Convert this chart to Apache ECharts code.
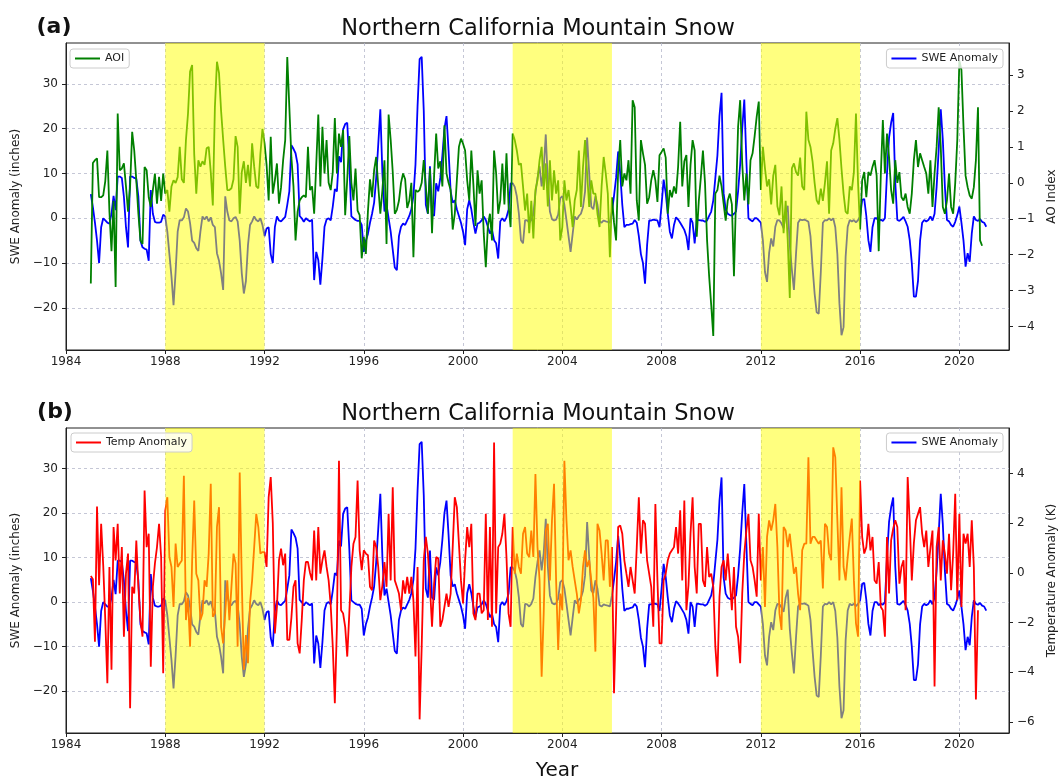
<!DOCTYPE html>
<html>
<head>
<meta charset="utf-8">
<title>Northern California Mountain Snow</title>
<script src="https://cdn.jsdelivr.net/npm/echarts@6.0.0/dist/echarts.min.js"></script>
<style>
  html, body { margin: 0; padding: 0; background: #fff; }
  #chart { width: 1061px; height: 780px; }
</style>
</head>
<body>
<div id="chart"></div>
<script>
// monthly series, first value = January 1985
const startYear = 1985;

// SWE anomaly (inches)
const sweAnomaly = [
  5.4, 2.5, -1, -5, -10, -2, 0, -0.5, -1, -1.2, 1, 5,
  1.8, 9.3, 9.3, 9, 4.8, -2, -6.5, 9.3, 9.3, 9, 8.8, 4.8,
  -5, -6.5, -6.8, -7, -9.5, 6.3, 1, -0.8, -1, -1, -0.8, 0.8,
  0.4, -3, -8, -13, -19.4, -12, -3, -0.4, -0.5, 0.2, 2.2, 1.5,
  -1.1, -5, -5.5, -6.7, -7.3, -3, 0.4, -0.3, 0.4, -0.7, 0.2, -1.5,
  -2, -7.8, -9.5, -12.3, -16, 4.9, 1.5, -0.5, -0.7, 0, 0.3, -0.7,
  -5, -12.3, -16.8, -14, -6, -1.5, -0.7, 0.4, -0.4, -0.7, 0, -1.5,
  -4, -2.3, -2, -8, -10, -2, 0.4, -0.5, -0.7, -0.2, 0.3, 3,
  6, 16.3, 15.5, 14.5, 12, 0.5, 0, -0.8, 0, -0.4, -0.7, -0.3,
  -13.8, -7.5, -9.3, -14.8, -9, -1.9, -0.3, 0, -0.5, 2.6, 6.5, 6,
  13.8, 12.5, 19.8, 21, 21.3, 12, 0.4, 0, -0.4, -0.6, -0.6, -1.5,
  -7.5, -5, -3.5, -1, 1, 3.5, 9, 16.5, 24.3, 10, 1.5, 3,
  0, -3, -7, -11, -11.6, -4, -1.9, -1.2, -1.5, -0.5, 0.5, 2,
  5, 12, 25, 35.5, 36, 24, 3, 1, 11.6, 1, 0.5, 7.8,
  6, 9, 14, 20, 22.8, 15, 6, 3.5, 4, 2, 0.5, -1,
  -3, -6, 2, 4, 2, -1, -3.4, -1.2, -1, -0.5, 0.4, -0.4,
  -1.9, -3.4, -2.6, -4.9, -5.6, -9, -0.7, 0, -0.7, 0.2, 1.9, 7.8,
  7.8, 7, 4.9, 1, -4.9, -5.6, -0.4, -0.5, -1, -0.4, 0.8, 5.6,
  9, 11.6, 7.1, 11, 18.7, 8, 1.5, -0.2, -0.5, -0.3, 0.8, 4.5,
  4.9, 3, -0.4, -4, -7.5, -3.5, 0.4, -0.3, 0.5, 1, 2.5, 6,
  18, 10, 2.6, 2, 4.9, 3, -0.7, -1, -0.5, -0.7, -0.8, -1,
  1.5, 5, 9, 14.9, 10, 3, -2, -1.5, -1.5, -1.3, -1.2, -0.4,
  -1, -4, -8, -10, -14.6, -6, -0.5, -0.5, -0.3, -0.4, -0.5, -2,
  3, 8.6, 5.6, 1, -3, -4.5, -1.5, 0.2, -0.3, -1, -1.8, -2.6,
  -4, -7.1, 0, -1, -5.6, -0.4, -0.4, -0.5, -0.5, -0.8, -0.5, 0.5,
  1.5, 4, 9, 14, 22.8, 28, 5.6, 1.9, 1, 0.7, 0.6, 1,
  1.5, 6, 12, 20, 26.5, 13, 0, -0.4, -0.7, 0, 0, -0.5,
  -1, -5, -12, -14.2, -7.8, -4.5, -6.3, -1.9, -0.4, -0.5, -1.2, -2.2,
  1, 2.8, -6, -11.5, -16, -8, -1, -0.3, -0.4, -0.3, -0.5, -0.8,
  -4, -10.8, -16.8, -21, -21.3, -12, -1, -0.4, -0.5, 0, -0.5, 0,
  -2, -8, -19, -26.1, -24.3, -8.6, -1.9, -0.4, -0.7, -0.4, -0.9, -0.4,
  0.4, 4.1, 4.3, 0.5, -4.9, -7.5, -2, 0, 0, -0.7, -0.3, -0.6,
  0, 10, 18, 21.3, 23.5, 8, -0.4, -0.6, -0.2, 0.3, -0.7, -1.9,
  -4.9, -10, -17.5, -17.5, -14, -5, -1, -0.4, -0.7, -0.4, 0.4, -0.5,
  1, 7, 15.3, 24.3, 17.5, 7, -0.4, -0.7, -1.5, -1.9, -0.8, 0.7,
  2.6, -1, -5, -10.8, -7.8, -9.7, -3.4, 0.4, -0.4, -0.6, -0.2, -0.8,
  -1, -1.9
];

// Arctic Oscillation index
const aoIndex = [
  -2.8, 0.55, 0.63, 0.68, -0.4, -0.4, -0.35, 0.05, 0.9, -0.8, -1.9, -0.5,
  -2.9, 1.93, 0.35, 0.4, 0.54, -0.1, -0.8, -0.1, 1.42, 0.9, 0.07, -0.86,
  -1.6, -1.7, 0.44, 0.35, -0.4, -0.67, -0.2, 0.26, -0.58, 0.17, -0.5, 0.26,
  -0.3, -0.2, -0.8, -0.1, 0.07, 0, 0.16, 1, 0.1, 0, 1.19, 1.93,
  3.1, 3.28, 0.8, -0.3, 0.63, 0.45, 0.6, 0.5, 0.96, 1, 0.3, -0.63,
  2.1, 3.37, 3.05, 2, 1.2, 0.45, -0.2, -0.2, -0.15, 0.1, 1.3, 1,
  -0.86, 0.3, 0.6, 0, 0.5, -0.1, 1.1, 0.45, -0.1, -0.15, 0.8, 1.5,
  1.1, 0.5, -0.49, 1.28, -0.3, 0.07, 0.54, -0.58, -0.12, 0.63, 1.19, 3.5,
  2.1, 0.7, -0.1, -1.6, -0.8, -0.49, -0.4, -0.35, -0.4, 1, -0.2, -0.1,
  -0.86, 0.5, 1.9, -0.1, 1.56, 0.26, 1.19, 0, -0.2, 0.3, 1.8, 0.26,
  1.37, 1, 1.47, -0.9, 0.1, 1.3, 0, -0.49, 0.4, -0.77, -0.9, -2.1,
  -1.5, -1.98, -0.8, 0.1, -0.4, 0.35, 0.72, -0.1, -0.86, -0.2, 0.63, -1.7,
  1.9, 1.2, 0.3, -0.86, -0.75, -0.5, 0, 0.26, 0.1, -0.7, -0.5, 0,
  -2.07, -0.2, -0.25, -0.2, 0, 0.63, -0.1, -0.86, 0.4, -1.4, 0.2, 1.37,
  0.4, 0.6, -0.1, 1.6, 0.26, 0, -0.2, -1.3, -0.86, 0.07, 1, 1.23,
  1.09, 0.9, 0.07, -0.49, 0.9, -0.05, -1.2, 0.35, -0.3, 0.07, -1.4, -2.35,
  -1.2, -0.86, -1.6, 0.9, 0.26, -0.86, -0.49, 0.54, -0.6, 0.82, -0.63, -1.23,
  1.37, 1.19, 0.9, 0.5, 0.54, -0.1, -0.77, -0.3, -1.4, -0.5, -1.55, -0.2,
  0.07, 0.63, 1, -0.2, 0.54, -0.66, 0.63, -0.49, 0.35, -0.3, 0.07, -1.6,
  -1.23, 0.07, -0.49, -0.2, -0.67, -1.23, -0.49, -0.2, 0.9, -0.67, 0.44, 1.19,
  0.26, -0.67, 0.07, -0.3, -0.3, -0.86, -1.23, -0.1, 0.72, 0.26, -0.3, -2.07,
  -0.4, -1.1, -1.6, 0.35, 1.19, -0.1, 0.26, 0.07, 0.63, -0.3, 2.3, 2.1,
  -0.49, -1.05, 1.19, 0.82, 0.5, -0.58, -0.4, 0.07, 0.35, 0.07, -0.53, 0.77,
  0.86, 0.96, 0.7, -0.86, -0.2, -0.4, -0.1, -0.3, 0.45, 1.7, -0.1, 0.6,
  0.77, -0.67, 0.5, 1.19, 0.9, -1.5, -0.5, 0.16, 0.9, 0, -1.6, -2.6,
  -3.4, -4.26, -0.3, -0.2, 0.2, -0.1, -0.58, -1.05, -0.49, -0.3, -0.6, -2.6,
  -0.4, 1.56, 2.3, 0.54, -0.49, 0.26, -0.6, 0.63, 0.82, 1.3, 1.84, 2.26,
  -0.2, 1, 0.4, -0.1, 0.1, -0.6, 0.2, 0.5, -0.65, -0.9, -0.1, -1.4,
  -0.5, -1.6, -3.2, 0.4, 0.54, 0.3, 0.2, 0.7, -0.1, -0.2, 1.98, 1.2,
  1, 0.6, 0, -0.49, -0.6, -0.16, -0.5, 0, 0.6, -0.86, 0.9, 1.1,
  1.5, 1.8, 1.2, 0.4, -0.3, -0.8, -0.86, -0.1, -0.2, 0.3, 1.93, 0,
  -1.3, 0.07, 0.3, -0.4, 0.3, 0.2, 0.45, 0.63, 0.2, -1.9, 0.2, 1.75,
  0.26, 1.37, 0.72, -0.2, -0.58, 0.63, 0, 0.3, -0.4, -0.49, -0.3, -0.67,
  -0.86, -0.3, 0.63, 1.19, 0.44, 0.82, 0.63, 0.44, 0.26, -0.3, 0.63, -0.67,
  0.26, 1, 2.1, 1, -0.67, -0.86, -0.49, 0.26, -0.67, -0.86, 0, 1.2,
  3.4, 3.14, 1.56, 0.2, -0.12, -0.35, -0.44, -0.12, 0.63, 2.1, -1.6, -1.75
];

// temperature anomaly (K)
const tempAnomaly = [
  -0.12, -0.25, -2.77, 2.68, -0.5, 1.98, 0.3, -1.9, -4.44, 0.24, -3.9, 1.85,
  0.5, 1.98, -0.83, 1.04, -2.57, -0.03, 0.78, -5.45, -0.56, -0.83, 1.31, -0.56,
  -1.9, -2.57, 3.32, 1.04, 1.58, -3.78, -0.56, 0.38, 1.04, 1.98, 0.64, -4.04,
  2.5, 3.05, 0.64, 0.24, -1.37, 1.18, 0.24, 0.38, 0.5, 3.92, -1.9, -1,
  -2.97, 0.51, 2.92, -0.03, -0.3, -1.9, -1.63, -0.3, -0.56, 0.78, 3.59, -1.77,
  -1.63, 1.85, 2.65, -2.17, -2.84, -1.63, -0.3, -1.9, -0.56, 0.78, 0.38, -2.97,
  4.05, -0.3, -3.9, -2.5, -3.64, -1.2, -0.3, 1.04, 2.38, 1.85, 0.78, 0.84,
  0.84, 0.24, 3.05, 3.86, 2, -2.44, -1.37, 0.51, 0.98, 0.31, 0.78, -2.7,
  -2.7, -1.8, -0.56, -0.3, -2.84, -3.24, -1.9, -0.3, 0.44, 0.44, 0, -0.3,
  1.71, -0.3, 1.85, -0.03, 0.51, 0.91, 0.24, -0.3, -1.3, -2.97, -5.25, -2.17,
  4.52, -1.5, -1.63, -2.17, -3.37, -1.63, 0.24, 1.18, 1.45, 3.72, 0.91, 0.11,
  0.91, 0.78, 0.71, -0.56, -0.7, 1.31, 1.04, 0.24, -1.1, -0.5, 0.44, -0.56,
  2.38, -0.3, 3.45, -0.3, -0.56, -0.83, -1.5, -0.3, -0.83, -0.16, -0.83, -0.16,
  -1.1, -3.37, 0.24, -5.9, -2.97, 0.51, 1.45, 0.78, -0.56, -2.17, -0.43, 0.64,
  0.58, -2.17, -1.9, -1.37, -0.83, -1.37, -0.83, 1.04, 3.05, 2.65, 1.18, -0.3,
  -1.23, 0.51, 1.85, 1.04, 1.98, -1.63, -1.9, -0.83, -0.83, -1.63, -1.5, 2.38,
  -1.9, 1.85, -2.17, 5.26, -1.63, 1.04, 1.18, 1.58, 2.38, 0.64, -1.63, -2.17,
  1.85, -0.03, 0.78, 0.24, -0.03, 1.58, 1.85, 0.78, 0.64, 1.71, 0.64, 3.99,
  1.04, -0.3, -4.18, -1.63, 1.71, 1.98, -0.3, 2.12, 3.59, -0.3, -3.1, -0.83,
  -1.5, 4.52, 2.12, 0.51, 0.91, 0.24, -0.3, -0.83, -1.63, -1.1, 0.24, 0.91,
  0.24, 0.51, -0.3, -1, -3.17, 1.98, 1.71, 0.78, -0.3, 1.31, 1.31, -0.56,
  1.04, -4.85, -1.63, 1.85, 1.91, 1.58, 0.51, -0.03, -0.56, 0.24, -0.3, -0.83,
  1.04, 3.05, 0.78, 2.12, 1.98, 0.51, -0.03, -0.56, -2.17, 2.78, -0.3, -2.84,
  -2.84, -0.3, -0.03, 0.51, 0.78, 0.91, 1.04, 1.85, 0.78, 2.52, -0.3, 2.92,
  -1.5, -0.5, 1.58, 3.05, 0.24, -0.83, 1.98, 1.98, -0.3, -0.56, 1.04, -0.16,
  -0.03, -0.56, -2.97, -4.18, -0.96, 0.24, 0.51, -0.3, 0.78, -0.3, -1.5, 0.24,
  -2.17, -2.57, -3.64, -0.83, 0.78, 1.71, 2.38, 0.51, 0.24, -0.3, -0.96, 2.38,
  -0.3, 1.04, -1.37, 1.45, 2.12, 1.71, 2.12, 2.78, 1.04, -1.63, -2.3, 1.85,
  1.71, 1.04, 1.58, 0.78, -0.03, 0.24, -0.83, -1.5, 0.91, 1.18, 1.18, 4.66,
  1.18, 1.45, 1.45, 1.31, 1.18, 1.31, -0.63, 1.98, 1.85, 0.78, 0.51, 5.06,
  4.66, 2.12, -0.3, 3.45, 0.24, -0.3, 0.64, 1.45, 2.19, -0.3, -2.03, -2.57,
  3.72, 1.45, 0.78, 1.04, 1.98, 0.91, 1.45, -0.3, -0.43, 0.44, -1.37, -1.5,
  -2.57, 1.45, -0.83, 1.31, 1.78, 2.12, 1.85, -0.43, 0.24, 0.51, -1.5, 3.86,
  2, -0.3, 1.2, 2.12, 2.38, 2.65, 1.58, 1.04, 1.71, 0.24, 1, 1.71,
  -4.58, 1.04, 1.85, -0.3, 1.31, 0.78, -0.03, 1.58, -0.7, 0.78, 3.19, -1.1,
  2.38, -1.37, 1.58, 1.18, 1.58, 0.24, 2.12, 0.24, -5.1, -1.5
];

const yearTicks = [1984, 1988, 1992, 1996, 2000, 2004, 2008, 2012, 2016, 2020];
const sweTicks = [-20, -10, 0, 10, 20, 30];
const aoTicks = [-4, -3, -2, -1, 0, 1, 2, 3];
const tempTicks = [-6, -4, -2, 0, 2, 4];
const shadedPeriods = [[1988, 1992], [2002, 2006], [2012, 2016]];

const sweRange = [-29.4, 39.1];
const aoRange = [-4.65, 3.89];
const tempRange = [-6.45, 5.84];

const FONT = 'DejaVu Sans';
const INK = '#222';

function monthly(values) {
  return values.map((v, i) => [startYear + i / 12, v]);
}

function tickText(v) {
  return v < 0 ? '\u2212' + Math.abs(v) : String(v);
}

function xAxisFor(gridIndex) {
  return {
    type: 'value', gridIndex: gridIndex, min: 1984, max: 2022, interval: 4,
    axisLine: { show: true, onZero: false, lineStyle: { color: INK, width: 1 } },
    axisTick: { show: true, length: 4, customValues: yearTicks, lineStyle: { color: INK } },
    axisLabel: { customValues: yearTicks, formatter: v => String(v), fontFamily: FONT, fontSize: 12, color: INK, margin: 6 },
    splitLine: { show: true, lineStyle: { type: [3, 3], color: '#b6b9cc', width: 0.8 } }
  };
}

function yAxisFor(gridIndex, side, range, ticks, name, gap, grid) {
  return {
    type: 'value', gridIndex: gridIndex, position: side, min: range[0], max: range[1],
    name: name, nameLocation: 'middle', nameGap: gap,
    nameTextStyle: { fontFamily: FONT, fontSize: 12, color: INK },
    axisLine: { show: true, onZero: false, lineStyle: { color: INK, width: 1 } },
    axisTick: { show: true, length: 4, customValues: ticks, lineStyle: { color: INK } },
    axisLabel: { customValues: ticks, formatter: tickText, fontFamily: FONT, fontSize: 12, color: INK, margin: 8 },
    splitLine: grid
      ? { show: true, lineStyle: { type: [3, 3], color: '#b6b9cc', width: 0.8 } }
      : { show: false }
  };
}

function lineSeries(name, values, color, xi, yi, z) {
  return {
    name: name, type: 'line', xAxisIndex: xi, yAxisIndex: yi,
    data: monthly(values), color: color, showSymbol: false, symbol: 'none',
    lineStyle: { color: color, width: 1.8 }, z: z, silent: true
  };
}

function shading() {
  return {
    silent: true, z: 3,
    itemStyle: { color: 'rgba(255,255,0,0.5)' },
    label: { show: false },
    data: shadedPeriods.map(p => [{ xAxis: p[0] }, { xAxis: p[1] }])
  };
}

function legendBox(name, pos) {
  return Object.assign({
    data: [name], orient: 'horizontal', icon: 'rect', itemWidth: 25, itemHeight: 2,
    padding: [4, 5, 4, 5], backgroundColor: 'rgba(255,255,255,0.8)',
    borderColor: '#cccccc', borderWidth: 1, borderRadius: 3,
    textStyle: { fontFamily: FONT, fontSize: 11, color: INK }, selectedMode: false
  }, pos);
}

function label(text, x, y, font) {
  return {
    type: 'text', x: x, y: y,
    style: { text: text, font: font, fill: '#111', align: 'center', verticalAlign: 'middle',
             textAlign: 'center', textVerticalAlign: 'middle' }
  };
}

const sweA = lineSeries('SWE Anomaly', sweAnomaly, '#0000ff', 0, 0, 2);
sweA.markArea = shading();
const sweB = lineSeries('SWE Anomaly', sweAnomaly, '#0000ff', 1, 2, 2);
sweB.markArea = shading();

const chart = echarts.init(document.getElementById('chart'), null, { renderer: 'canvas' });
chart.setOption({
  animation: false,
  backgroundColor: '#ffffff',
  grid: [
    { left: 66, right: 52, top: 43, height: 307, show: true, borderColor: INK, borderWidth: 1, backgroundColor: 'transparent', outerBoundsMode: 'none' },
    { left: 66, right: 52, top: 428, height: 305, show: true, borderColor: INK, borderWidth: 1, backgroundColor: 'transparent', outerBoundsMode: 'none' }
  ],
  xAxis: [xAxisFor(0), xAxisFor(1)],
  yAxis: [
    yAxisFor(0, 'left', sweRange, sweTicks, 'SWE Anomaly (inches)', 36, true),
    yAxisFor(0, 'right', aoRange, aoTicks, 'AO Index', 27, false),
    yAxisFor(1, 'left', sweRange, sweTicks, 'SWE Anomaly (inches)', 36, true),
    yAxisFor(1, 'right', tempRange, tempTicks, 'Temperature Anomaly (K)', 26, false)
  ],
  legend: [
    legendBox('AOI', { left: 70, top: 49 }),
    legendBox('SWE Anomaly', { right: 58, top: 49 }),
    legendBox('Temp Anomaly', { left: 71, top: 433 }),
    legendBox('SWE Anomaly', { right: 58, top: 433 })
  ],
  graphic: [
    label('(a)', 54, 27, 'bold 22px "DejaVu Sans"'),
    label('(b)', 55, 412, 'bold 22px "DejaVu Sans"'),
    label('Northern California Mountain Snow', 538, 29, '22.5px "DejaVu Sans"'),
    label('Northern California Mountain Snow', 538, 414, '22.5px "DejaVu Sans"'),
    label('Year', 557, 771, '20px "DejaVu Sans"')
  ],
  series: [
    sweA,
    lineSeries('AOI', aoIndex, '#008000', 0, 1, 2),
    sweB,
    lineSeries('Temp Anomaly', tempAnomaly, '#ff0000', 1, 3, 2)
  ]
});
</script>
</body>
</html>
